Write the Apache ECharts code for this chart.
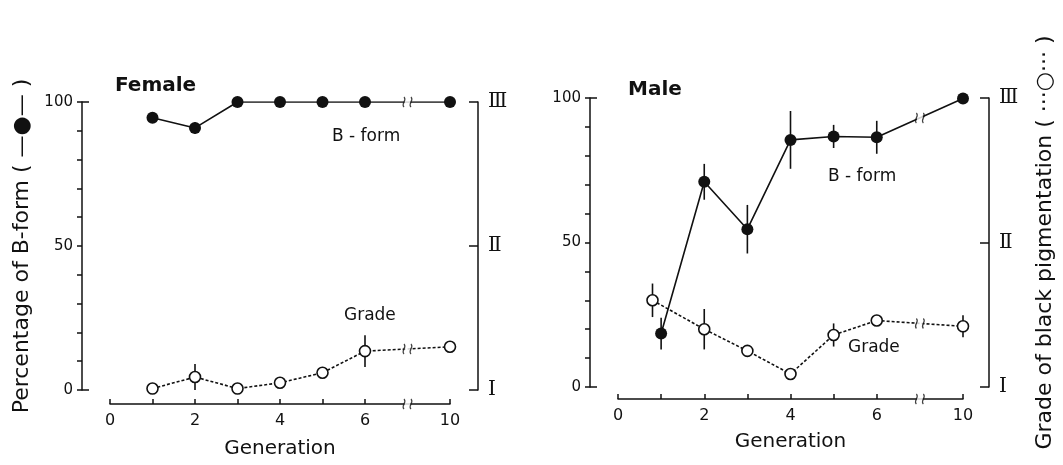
<!DOCTYPE html>
<html lang="en">
<head>
    <meta charset="UTF-8">
    <title>B-form and pigmentation by generation</title>
    <style>
        html, body { margin: 0; padding: 0; background: #fff; }
        #main { width: 1063px; height: 465px; }
    </style>
</head>
<body>
<div id="main"></div>
<script src="https://cdn.jsdelivr.net/npm/echarts@6/dist/echarts.min.js"></script>
<script>
    // data
    var generations = [1, 2, 3, 4, 5, 6, 10];
    var femaleB = [94.5, 91, 100, 100, 100, 100, 100];
    var femaleBErr = [0, 2, 0, 0, 0, 0, 0];
    var femaleGrade = [1.01, 1.09, 1.01, 1.05, 1.12, 1.27, 1.30];
    var femaleGradeErr = [0, 0.09, 0, 0, 0, 0.11, 0.04];

    var maleB = [18.5, 71, 54.6, 85.5, 86.7, 86.4, 99.8];
    var maleBErr = [5.5, 6.2, 8.4, 10, 4, 5.7, 0];
    var maleGradeGens = [0.8, 2, 3, 4, 5, 6, 10];
    var maleGrade = [1.60, 1.40, 1.25, 1.09, 1.36, 1.46, 1.42];
    var maleGradeErr = [0.116, 0.14, 0, 0, 0.08, 0.03, 0.076];

    var xTickLabels = ['0', '', '2', '', '4', '', '6', '', '10'];
    var gradeLabels = {1: 'Ⅰ', 2: 'Ⅱ', 3: 'Ⅲ'};

    var FONT = 'DejaVu Sans';
    var myChart = echarts.init(document.getElementById('main'));

    // generation 10 sits right after the axis break
    function pos(g) { return g > 6 ? g - 2 : g; }
    function pairs(gens, vals) {
        return gens.map(function (g, i) { return [pos(g), vals[i]]; });
    }
    function errs(gens, vals, e) {
        var out = [];
        for (var i = 0; i < gens.length; i++) {
            if (e[i] > 0) out.push([pos(gens[i]), vals[i] - e[i], vals[i] + e[i]]);
        }
        return out;
    }
    function breakPoint(vals) {
        return [[7, (vals[5] + vals[6]) / 2]];
    }

    var panels = [
        {axL: 82, axR: 478, x0: 110, x10: 450, top: 102, bottom: 390, xAxisY: 404,
         b: femaleB, bErr: femaleBErr, gGens: generations, g: femaleGrade, gErr: femaleGradeErr},
        {axL: 590, axR: 989, x0: 618, x10: 963, top: 98, bottom: 387, xAxisY: 399,
         b: maleB, bErr: maleBErr, gGens: maleGradeGens, g: maleGrade, gErr: maleGradeErr}
    ];

    var grid = [], xAxis = [], yAxis = [], series = [];

    var errorRender = function (params, api) {
        var a = api.coord([api.value(0), api.value(1)]);
        var b = api.coord([api.value(0), api.value(2)]);
        return {
            type: 'line',
            shape: {x1: a[0], y1: a[1], x2: b[0], y2: b[1]},
            style: {stroke: '#111', lineWidth: 1.6}
        };
    };

    var breakSymbol = 'path://M3,12 C0,8 6,4 3,0 M9,12 C6,8 12,4 9,0';

    panels.forEach(function (p, k) {
        var unit = (p.x10 - p.x0) / 8;
        grid.push({left: p.axL, width: p.axR - p.axL, top: p.top, height: p.bottom - p.top});
        grid.push({left: p.x0, width: p.x10 - p.x0, top: p.xAxisY - 20, height: 20});

        xAxis.push({
            type: 'value', gridIndex: 2 * k, show: false,
            min: -(p.x0 - p.axL) / unit, max: 8 + (p.axR - p.x10) / unit
        });
        xAxis.push({
            type: 'category', gridIndex: 2 * k + 1, data: xTickLabels,
            boundaryGap: false, position: 'bottom',
            axisLine: {lineStyle: {color: '#111', width: 1.5}},
            axisTick: {inside: true, length: 5, lineStyle: {color: '#111', width: 1.5},
                interval: function (i) { return i !== 7; }},
            axisLabel: {interval: 0, margin: 9, color: '#111', fontFamily: FONT, fontSize: 16},
            name: 'Generation', nameLocation: 'middle', nameGap: k === 0 ? 35 : 33,
            nameTextStyle: {color: '#111', fontFamily: FONT, fontSize: 20}
        });

        yAxis.push({
            type: 'value', gridIndex: 2 * k, position: 'left', min: 0, max: 100, interval: 10,
            axisLine: {show: true, onZero: false, lineStyle: {color: '#111', width: 1.5}},
            axisTick: {show: true, length: 5, lineStyle: {color: '#111', width: 1.5}},
            axisLabel: {margin: 9, color: '#111', fontFamily: FONT, fontSize: 15,
                formatter: function (v) { return v % 50 === 0 ? v : ''; }},
            splitLine: {show: false},
            name: k === 0 ? 'Percentage of B-form ( —●— )' : '',
            nameLocation: 'middle', nameRotate: 90, nameGap: 49,
            nameTextStyle: {color: '#111', fontFamily: FONT, fontSize: 22}
        });
        yAxis.push({
            type: 'value', gridIndex: 2 * k, position: 'left', min: 0, max: 100, interval: 100,
            axisLine: {show: false, onZero: false},
            axisTick: {show: true, inside: true, length: 7, lineStyle: {color: '#111', width: 1.5}},
            axisLabel: {show: false}, splitLine: {show: false}
        });
        yAxis.push({
            type: 'value', gridIndex: 2 * k, position: 'right', min: 1, max: 3, interval: 1,
            axisLine: {show: true, onZero: false, lineStyle: {color: '#111', width: 1.5}},
            axisTick: {show: true, inside: true, length: 9, lineStyle: {color: '#111', width: 1.5}},
            axisLabel: {margin: 10, color: '#111', fontFamily: 'DejaVu Serif', fontSize: 20,
                formatter: function (v) { return gradeLabels[v] || ''; }},
            splitLine: {show: false},
            name: k === 1 ? 'Grade of black pigmentation ( ···○··· )' : '',
            nameLocation: 'middle', nameRotate: 90, nameGap: 45,
            nameTextStyle: {color: '#111', fontFamily: FONT, fontSize: 22}
        });
        yAxis.push({type: 'value', gridIndex: 2 * k + 1, min: 0, max: 1, show: false});

        var xi = 2 * k, yPct = 4 * k, yGrade = 4 * k + 2;

        series.push({
            type: 'custom', xAxisIndex: xi, yAxisIndex: yPct, z: 1,
            renderItem: errorRender, data: errs(generations, p.b, p.bErr)
        });
        series.push({
            type: 'custom', xAxisIndex: xi, yAxisIndex: yGrade, z: 1,
            renderItem: errorRender, data: errs(p.gGens, p.g, p.gErr)
        });
        series.push({
            name: 'Grade', type: 'line', xAxisIndex: xi, yAxisIndex: yGrade, z: 2,
            data: pairs(p.gGens, p.g),
            symbol: 'circle', symbolSize: 11,
            itemStyle: {color: '#fff', borderColor: '#111', borderWidth: 1.6},
            lineStyle: {color: '#111', width: 1.6, type: [3, 2]}
        });
        series.push({
            name: 'B-form', type: 'line', xAxisIndex: xi, yAxisIndex: yPct, z: 2,
            data: pairs(generations, p.b),
            symbol: 'circle', symbolSize: 12,
            itemStyle: {color: '#111'},
            lineStyle: {color: '#111', width: 1.6}
        });

        // axis-break marks on both lines and on the generation axis
        [[yPct, p.b, xi], [yGrade, p.g, xi]].forEach(function (t) {
            series.push({
                type: 'scatter', xAxisIndex: t[2], yAxisIndex: t[0], z: 3, silent: true,
                data: breakPoint(t[1]), symbol: 'rect', symbolSize: [6, 5],
                itemStyle: {color: '#fff'}
            });
            series.push({
                type: 'scatter', xAxisIndex: t[2], yAxisIndex: t[0], z: 4, silent: true,
                data: breakPoint(t[1]), symbol: breakSymbol, symbolSize: [9, 10],
                itemStyle: {color: 'rgba(0,0,0,0)', borderColor: '#111', borderWidth: 1.3}
            });
        });
        series.push({
            type: 'scatter', xAxisIndex: 2 * k + 1, yAxisIndex: 4 * k + 3, z: 3, silent: true,
            data: [[7, 0]], symbol: 'rect', symbolSize: [6, 5], itemStyle: {color: '#fff'}
        });
        series.push({
            type: 'scatter', xAxisIndex: 2 * k + 1, yAxisIndex: 4 * k + 3, z: 4, silent: true,
            data: [[7, 0]], symbol: breakSymbol, symbolSize: [9, 10],
            itemStyle: {color: 'rgba(0,0,0,0)', borderColor: '#111', borderWidth: 1.3}
        });
    });

    var textStyle = function (txt, size, weight) {
        return {text: txt, fill: '#111', font: (weight || 'normal') + ' ' + size + 'px "' + FONT + '"'};
    };

    var option = {
        backgroundColor: '#fff',
        animation: false,
        grid: grid,
        xAxis: xAxis,
        yAxis: yAxis,
        series: series,
        graphic: [
            {type: 'text', left: 115, top: 76, style: textStyle('Female', 20, 'bold')},
            {type: 'text', left: 628, top: 80, style: textStyle('Male', 20, 'bold')},
            {type: 'text', left: 332, top: 128, style: textStyle('B - form', 17)},
            {type: 'text', left: 344, top: 307, style: textStyle('Grade', 17)},
            {type: 'text', left: 828, top: 168, style: textStyle('B - form', 17)},
            {type: 'text', left: 848, top: 339, style: textStyle('Grade', 17)}
        ]
    };
    myChart.setOption(option);
</script>
</body>
</html>
